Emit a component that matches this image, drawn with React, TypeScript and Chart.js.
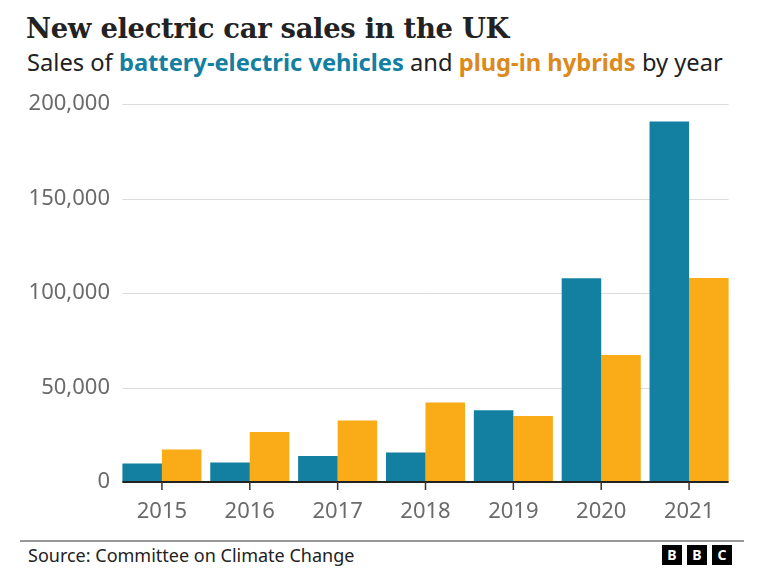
import React, { useEffect, useRef } from "react";
import { Chart, registerables } from "chart.js";

Chart.register(...registerables);

const years = ["2015", "2016", "2017", "2018", "2019", "2020", "2021"];
const batteryElectric = [9800, 10300, 13700, 15600, 37900, 107800, 190700];
const plugInHybrids = [17200, 26400, 32600, 42000, 34900, 67200, 108000];
const yTicks = [0, 50000, 100000, 150000, 200000];

const BLUE = "#1380A1";
const ORANGE = "#FAAB18";

const gridPlugin = {
  id: "customGrid",
  beforeDatasetsDraw(chart: any) {
    const { ctx, chartArea, scales } = chart;
    const cat = (chartArea.right - chartArea.left) / years.length;
    const gap = cat * 0.05;
    const l = chartArea.left + gap;
    const r = chartArea.right - gap;
    ctx.save();
    ctx.strokeStyle = "#dcdcdc";
    ctx.lineWidth = 1;
    yTicks.forEach((v) => {
      if (v === 0) return;
      const y = Math.round(scales.y.getPixelForValue(v)) + 0.5;
      ctx.beginPath();
      ctx.moveTo(l, y);
      ctx.lineTo(r, y);
      ctx.stroke();
    });
    ctx.restore();
  },
  afterDatasetsDraw(chart: any) {
    const { ctx, chartArea, scales } = chart;
    const cat = (chartArea.right - chartArea.left) / years.length;
    const gap = cat * 0.05;
    const l = chartArea.left + gap;
    const r = chartArea.right - gap;
    const y0 = scales.y.getPixelForValue(0);
    ctx.save();
    ctx.strokeStyle = "#222222";
    ctx.lineWidth = 2;
    ctx.beginPath();
    ctx.moveTo(l, y0);
    ctx.lineTo(r, y0);
    ctx.stroke();
    ctx.lineWidth = 1.5;
    ctx.strokeStyle = "#333333";
    years.forEach((_, i) => {
      const px = scales.x.getPixelForValue(i);
      ctx.beginPath();
      ctx.moveTo(px, y0);
      ctx.lineTo(px, y0 + 8);
      ctx.stroke();
    });
    ctx.restore();
  },
};

function BarChart() {
  const ref = useRef<HTMLCanvasElement | null>(null);
  useEffect(() => {
    if (!ref.current) return;
    const chart = new Chart(ref.current, {
      type: "bar",
      data: {
        labels: years,
        datasets: [
          {
            label: "Battery-electric vehicles",
            data: batteryElectric,
            backgroundColor: BLUE,
            borderWidth: 0,
            categoryPercentage: 0.9,
            barPercentage: 1.0,
          },
          {
            label: "Plug-in hybrids",
            data: plugInHybrids,
            backgroundColor: ORANGE,
            borderWidth: 0,
            categoryPercentage: 0.9,
            barPercentage: 1.0,
          },
        ],
      },
      options: {
        animation: false,
        responsive: false,
        maintainAspectRatio: false,
        layout: { padding: { top: 24, right: 27, left: 0, bottom: 0 } },
        plugins: {
          legend: { display: false },
          tooltip: { enabled: false },
          title: { display: false },
        },
        scales: {
          x: {
            grid: { display: false },
            border: { display: false },
            ticks: {
              color: "#6a6a6a",
              padding: 9,
              font: { family: "'Noto Sans', sans-serif", size: 22 },
            },
            afterFit(scale: any) {
              scale.height = 58;
            },
          },
          y: {
            min: 0,
            max: 200000,
            afterBuildTicks(scale: any) {
              scale.ticks = yTicks.map((v) => ({ value: v }));
            },
            grid: { display: false },
            border: { display: false },
            ticks: {
              color: "#6a6a6a",
              padding: 0,
              font: { family: "'Noto Sans', sans-serif", size: 22 },
              callback: (v: any) => Number(v).toLocaleString("en-US"),
            },
            afterFit(scale: any) {
              scale.width = 118;
            },
          },
        },
      },
      plugins: [gridPlugin],
    });
    return () => chart.destroy();
  }, []);
  return (
    <canvas
      ref={ref}
      width={760}
      height={460}
      style={{ position: "absolute", left: 0, top: 80, width: 760, height: 460 }}
    />
  );
}

export default function App() {
  const box = {
    width: 20,
    height: 20,
    background: "#000",
    color: "#fff",
    fontFamily: "'Noto Sans', sans-serif",
    fontWeight: 700 as const,
    fontSize: 14,
    lineHeight: "20px",
    textAlign: "center" as const,
    marginLeft: 5,
  };
  return (
    <div
      style={{
        position: "absolute",
        left: 0,
        top: 0,
        width: 760,
        height: 584,
        background: "#fff",
        overflow: "hidden",
      }}
    >
      <div
        style={{
          position: "absolute",
          left: 26,
          top: 13,
          fontFamily: "'DejaVu Serif', serif",
          fontWeight: 700,
          fontSize: 27.4,
          lineHeight: "30px",
          color: "#222",
          whiteSpace: "nowrap",
          letterSpacing: -0.3,
        }}
      >
        New electric car sales in the UK
      </div>
      <div
        style={{
          position: "absolute",
          left: 27,
          top: 48,
          fontFamily: "'Noto Sans', sans-serif",
          fontSize: 23.7,
          lineHeight: "28px",
          color: "#222",
          whiteSpace: "nowrap",
        }}
      >
        Sales of <b style={{ color: BLUE }}>battery-electric vehicles</b> and{" "}
        <b style={{ color: "#DB8A1B" }}>plug-in hybrids</b> by year
      </div>
      <BarChart />
      <div
        style={{
          position: "absolute",
          left: 20,
          top: 540,
          width: 724,
          height: 2,
          background: "#999",
        }}
      />
      <div
        style={{
          position: "absolute",
          left: 28,
          top: 543,
          fontFamily: "'Noto Sans', sans-serif",
          fontSize: 18,
          lineHeight: "24px",
          color: "#222",
          whiteSpace: "nowrap",
        }}
      >
        Source: Committee on Climate Change
      </div>
      <div style={{ position: "absolute", left: 657, top: 545, display: "flex" }}>
        <div style={box}>B</div>
        <div style={box}>B</div>
        <div style={box}>C</div>
      </div>
    </div>
  );
}
